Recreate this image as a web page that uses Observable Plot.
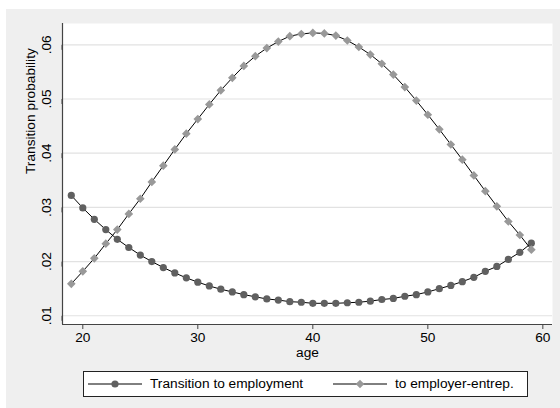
<!DOCTYPE html>
<html>
<head>
<meta charset="utf-8">
<script src="https://cdn.jsdelivr.net/npm/d3@7"></script>
<script src="https://cdn.jsdelivr.net/npm/@observablehq/plot@0.6"></script>
<style>
  html, body { margin: 0; padding: 0; background: #ffffff; }
  #wrap { position: relative; width: 560px; height: 408px; overflow: hidden; font-family: "Liberation Sans", Arial, sans-serif; }
  #bg { position: absolute; left: 6px; top: 9px; width: 554px; height: 399px; background: #efefef; }
  #chart { position: absolute; left: 0; top: 0; }
  #legend { position: absolute; left: 83px; top: 371px; width: 445px; height: 26px; box-sizing: border-box;
            border: 1px solid #222; background: #ffffff; font-size: 13.7px; color: #000; }
  #legend .lab { position: absolute; top: 0; line-height: 24px; white-space: nowrap; }
  #legend svg { position: absolute; left: 0; top: 0; }
</style>
</head>
<body>
<div id="wrap">
  <div id="bg"></div>
  <div id="chart"></div>
  <div id="legend"></div>
</div>
<script>
const ages = [19,20,21,22,23,24,25,26,27,28,29,30,31,32,33,34,35,36,37,38,39,40,41,42,43,44,45,46,47,48,49,50,51,52,53,54,55,56,57,58,59];
const toEmployment = [0.0322,0.0299,0.0278,0.0259,0.0241,0.0226,0.0212,0.0200,0.0189,0.0179,0.0170,0.0162,0.0155,0.0149,0.0144,0.0139,0.0135,0.0131,0.0129,0.0126,0.0125,0.0123,0.0123,0.0123,0.0124,0.0125,0.0127,0.0130,0.0132,0.0136,0.0139,0.0144,0.0150,0.0156,0.0163,0.0171,0.0182,0.0191,0.0204,0.0217,0.0234];
const toEmployerEntrep = [0.0159,0.0182,0.0206,0.0233,0.0259,0.0288,0.0316,0.0347,0.0377,0.0407,0.0436,0.0463,0.0490,0.0516,0.0539,0.0561,0.0579,0.0594,0.0606,0.0616,0.0620,0.0622,0.0621,0.0617,0.0608,0.0596,0.0582,0.0565,0.0545,0.0522,0.0497,0.0471,0.0444,0.0416,0.0388,0.0359,0.0330,0.0302,0.0274,0.0249,0.0222];
const seriesNames = ["Transition to employment", "to employer-entrep."];
const xTicks = [20,30,40,50,60];
const yTicks = [0.01,0.02,0.03,0.04,0.05,0.06];
const xLabel = "age";
const yLabel = "Transition probability";

const circleColor = "#606060";
const diamondColor = "#999999";
const fs = 13.7;

const emp = ages.map((a,i) => ({age: a, p: toEmployment[i]}));
const ent = ages.map((a,i) => ({age: a, p: toEmployerEntrep[i]}));

const xDom = [18.235, 60.84];
const yDom = [0.00839, 0.06393];

const chart = Plot.plot({
  width: 560,
  height: 360,
  marginLeft: 62,
  marginRight: 8,
  marginTop: 23,
  marginBottom: 36,
  style: {background: "transparent", fontFamily: "Liberation Sans, Arial, sans-serif", fontSize: fs + "px", color: "#000"},
  x: {domain: xDom},
  y: {domain: yDom},
  marks: [
    Plot.frame({fill: "white", stroke: "none"}),
    Plot.gridY(yTicks, {stroke: "#e2e2e2", strokeOpacity: 1, strokeWidth: 1.2}),
    Plot.ruleX([xDom[0]], {stroke: "#444", strokeWidth: 1.2}),
    Plot.ruleY([yDom[0]], {stroke: "#444", strokeWidth: 1.2}),
    Plot.axisX({ticks: xTicks, tickSize: 5, tickPadding: 2.5, label: null, fontSize: fs, stroke: "#444"}),
    Plot.axisY({ticks: yTicks, tickSize: 5, tickPadding: 11, label: null, fontSize: fs, rotate: -90, textAnchor: "middle",
                tickFormat: d => d3.format(".2f")(d).replace(/^0/, ""), stroke: "#444"}),
    Plot.line(emp, {x: "age", y: "p", stroke: "#000", strokeWidth: 1}),
    Plot.dot(emp, {x: "age", y: "p", r: 3.6, fill: circleColor, stroke: "none"}),
    Plot.line(ent, {x: "age", y: "p", stroke: "#000", strokeWidth: 1}),
    Plot.dot(ent, {x: "age", y: "p", r: 3.9, symbol: "diamond2", fill: diamondColor, stroke: "none"}),
    Plot.text([xLabel], {frameAnchor: "bottom", dy: 32.5, text: d => d, fontSize: fs, fill: "#000"}),
    Plot.text([yLabel], {frameAnchor: "left", dx: -32, rotate: -90, text: d => d, fontSize: fs, fill: "#000"})
  ]
});
document.getElementById("chart").appendChild(chart);

// legend
const lg = document.getElementById("legend");
const ns = "http://www.w3.org/2000/svg";
const svg = document.createElementNS(ns, "svg");
svg.setAttribute("width", 443); svg.setAttribute("height", 24);
function el(tag, attrs) { const e = document.createElementNS(ns, tag); for (const k in attrs) e.setAttribute(k, attrs[k]); svg.appendChild(e); return e; }
el("line", {x1: 4, x2: 58, y1: 12, y2: 12, stroke: "#000", "stroke-width": 1});
el("circle", {cx: 31, cy: 12, r: 3.6, fill: circleColor});
el("line", {x1: 249, x2: 303, y1: 12, y2: 12, stroke: "#000", "stroke-width": 1});
el("path", {d: "M276,7.7L280.3,12L276,16.3L271.7,12Z", fill: diamondColor});
lg.appendChild(svg);
[[seriesNames[0], 66], [seriesNames[1], 311]].forEach(([t, x]) => {
  const s = document.createElement("div"); s.className = "lab"; s.style.left = x + "px"; s.textContent = t; lg.appendChild(s);
});
</script>
</body>
</html>
